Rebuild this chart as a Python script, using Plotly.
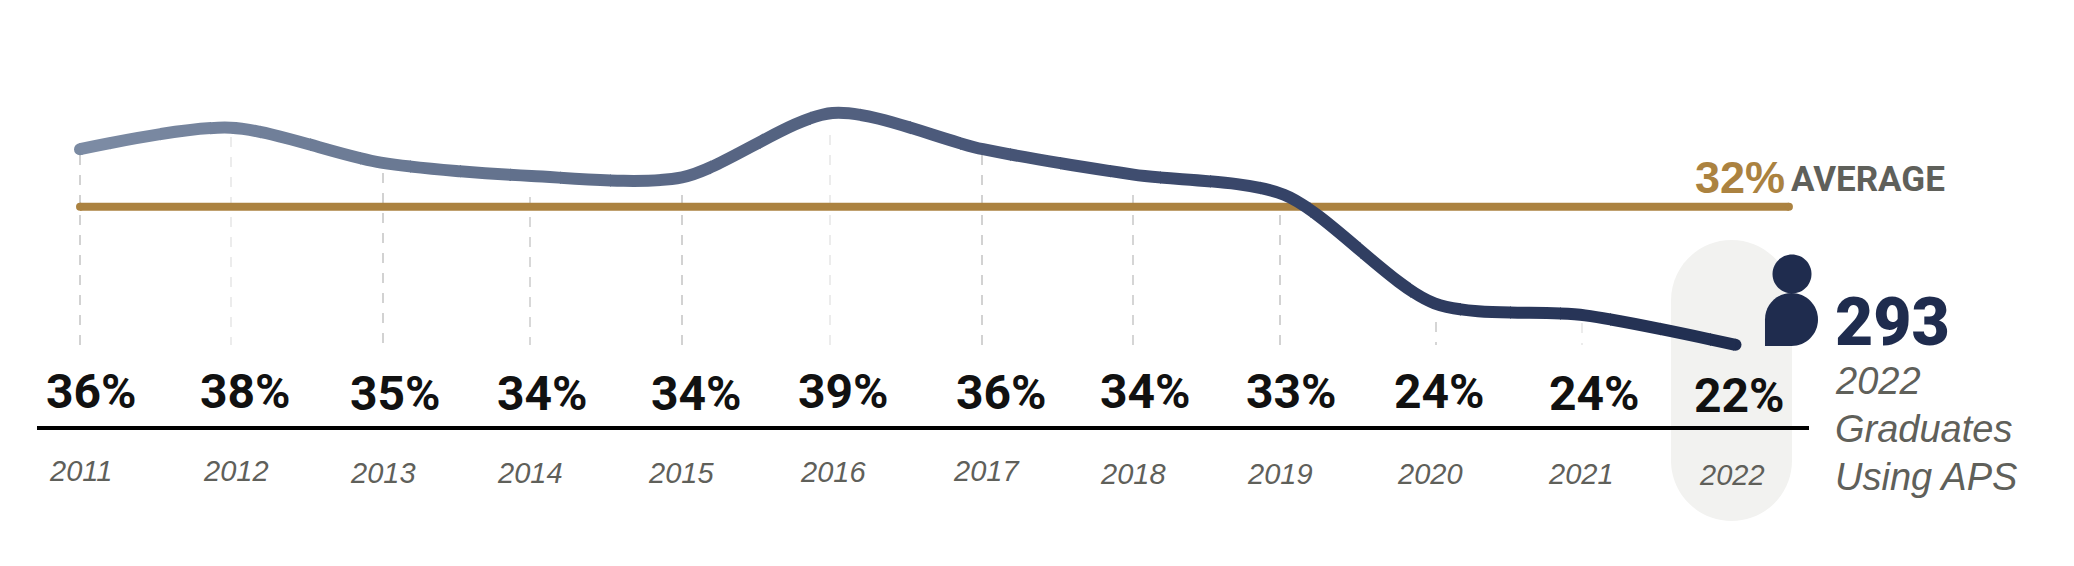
import plotly.graph_objects as go

# ---- data ----
years = [2011, 2012, 2013, 2014, 2015, 2016, 2017, 2018, 2019, 2020, 2021, 2022]
rate_curve = [36.3, 37.9, 35.3, 34.3, 34.2, 39.0, 36.3, 34.4, 32.9, 24.8, 23.9, 21.7]
rate_labels = ["36%", "38%", "35%", "34%", "34%", "39%", "36%", "34%", "33%", "24%", "24%", "22%"]
year_labels = [str(y) for y in years]
average_value = 32
average_x = [2011, 2022.355]
graduates = "293"

# ---- layout tuning (pixels on the 2074x566 canvas) ----
W, H = 2074, 566
X0, XSTEP = 80.0, 150.5        # pixel of 2011, pixels per year
Y39, YSTEP = 113.0, 13.4       # pixel of 39 %, pixels per point
pct_px = [91, 245, 395, 542, 696, 843, 1001, 1145, 1291, 1439, 1594, 1739]
pct_py = [391, 391, 393, 393, 393, 391, 392, 391, 391, 391, 393, 395]
yr_px = [80, 236, 383, 530, 681, 833, 986, 1133, 1280, 1430, 1581, 1732]
yr_py = [471, 471, 473, 473, 473, 472, 471, 474, 474, 474, 474, 475]
guide_px = [80, 231, 383, 530, 682, 830, 982, 1133, 1280, 1436, 1582]
guide_top = [155, 137, 173, 197, 195, 135, 155, 195, 215, 322, 323]
guide_col = ["#c4c4c4", "#e6e6e6", "#c4c4c4", "#cccccc", "#c4c4c4", "#e6e6e6",
             "#c4c4c4", "#c8c8c8", "#c4c4c4", "#c8c8c8", "#e6e6e6"]
grad_stops = [(0.0, (125, 141, 165)), (0.25, (100, 115, 142)), (0.5, (78, 92, 124)),
              (0.75, (50, 64, 100)), (1.0, (31, 44, 78))]
NAVY, GOLD, GREY, INK = "#1f2c4e", "#ab8240", "#5f605a", "#111111"
LINE_W = 12


def px(v):
    return v / W


def py(v):
    return 1 - v / H


def year_at(p):
    return 2011 + (p - X0) / XSTEP


def val_at(p):
    return 39 - (p - Y39) / YSTEP


def mix(t):
    for (a, ca), (b, cb) in zip(grad_stops, grad_stops[1:]):
        if t <= b:
            f = (t - a) / (b - a)
            return "rgb(%d,%d,%d)" % tuple(round(x + (y - x) * f) for x, y in zip(ca, cb))
    return "rgb(31,44,78)"


fig = go.Figure()
layout_axes = {}

# the curve: one spline, repeated through narrow side-by-side subplots so
# that each window clips it to a slice and paints it a step further along the gradient
start, stop = 60, 1760
n = 34
width = (stop - start) / n
cuts = [start + i * width for i in range(n + 1)]

# gold average goes below the curve
fig.add_trace(go.Scatter(x=average_x, y=[average_value] * 2, mode="lines+markers",
                         line=dict(color=GOLD, width=8), marker=dict(color=GOLD, size=8),
                         hoverinfo="skip", showlegend=False))

for i in range(n):
    a, b = cuts[i], min(cuts[i + 1] + 1.0, stop)
    name = "xaxis%d" % (i + 2)
    ref = "x%d" % (i + 2)
    layout_axes[name] = dict(domain=[a / W, b / W], range=[year_at(a), year_at(b)],
                             visible=False, anchor="y", fixedrange=True)
    fig.add_trace(go.Scatter(x=years, y=rate_curve, xaxis=ref, yaxis="y", mode="lines",
                             line=dict(color=mix((i + 0.5) / n), width=LINE_W,
                                       shape="spline", smoothing=0.8),
                             hoverinfo="skip", showlegend=False))

# round ends of the curve
fig.add_trace(go.Scatter(x=[years[0]], y=[rate_curve[0]], mode="markers",
                         marker=dict(color=mix(0.03), size=LINE_W), hoverinfo="skip", showlegend=False))
fig.add_trace(go.Scatter(x=[years[-1]], y=[rate_curve[-1]], mode="markers",
                         marker=dict(color=mix(1.0), size=LINE_W), hoverinfo="skip", showlegend=False))

shapes = []


def path_shape(d, color, layer="below", line=None):
    return dict(type="path", path=d, xref="paper", yref="paper", fillcolor=color,
                line=line or dict(width=0), layer=layer)


def P(x, y):
    return "%.5f,%.5f" % (px(x), py(y))


# highlight pill
L, R, T, B, r = 1671, 1792, 240, 521, 60.5
k = r * 0.5523
pill = ("M" + P(L, T + r) + " C" + P(L, T + r - k) + " " + P(L + r - k, T) + " " + P(L + r, T) +
        " C" + P(R - r + k, T) + " " + P(R, T + r - k) + " " + P(R, T + r) +
        " L" + P(R, B - r) +
        " C" + P(R, B - r + k) + " " + P(R - r + k, B) + " " + P(R - r, B) +
        " C" + P(L + r - k, B) + " " + P(L, B - r + k) + " " + P(L, B - r) + " Z")
shapes.append(path_shape(pill, "#f2f2f0"))

# dashed guides
for gx, top, col in zip(guide_px, guide_top, guide_col):
    shapes.append(dict(type="line", xref="paper", yref="paper", x0=px(gx), x1=px(gx),
                       y0=py(top), y1=py(345), layer="below",
                       line=dict(color=col, width=1.5, dash="10px,10px")))

# baseline
shapes.append(dict(type="line", xref="paper", yref="paper", x0=px(37), x1=px(1809),
                   y0=py(428), y1=py(428), layer="above", line=dict(color="#000000", width=4)))

# person icon
cx, cy, hr = 1792, 274, 19.5
hk = hr * 0.5523
head = ("M" + P(cx - hr, cy) + " C" + P(cx - hr, cy - hk) + " " + P(cx - hk, cy - hr) + " " + P(cx, cy - hr) +
        " C" + P(cx + hk, cy - hr) + " " + P(cx + hr, cy - hk) + " " + P(cx + hr, cy) +
        " C" + P(cx + hr, cy + hk) + " " + P(cx + hk, cy + hr) + " " + P(cx, cy + hr) +
        " C" + P(cx - hk, cy + hr) + " " + P(cx - hr, cy + hk) + " " + P(cx - hr, cy) + " Z")
shapes.append(path_shape(head, NAVY, "above"))
bl, br, bt, bb = 1765, 1818, 293, 346
bcx, brad = (bl + br) / 2, (br - bl) / 2
bk = brad * 0.5523
body = ("M" + P(bl, bb) + " L" + P(bl, bt + brad) +
        " C" + P(bl, bt + brad - bk) + " " + P(bcx - bk, bt) + " " + P(bcx, bt) +
        " C" + P(bcx + bk, bt) + " " + P(br, bt + brad - bk) + " " + P(br, bt + brad) +
        " L" + P(br, bb - brad) +
        " C" + P(br, bb - brad + bk) + " " + P(bcx + bk, bb) + " " + P(bcx, bb) + " Z")
shapes.append(path_shape(body, NAVY, "above"))

annotations = []


def text(s, x, y, size, color, family="Liberation Sans", weight=400, italic=False,
         xanchor="center", yanchor="middle"):
    annotations.append(dict(text=s, x=px(x), y=py(y), xref="paper", yref="paper",
                            xanchor=xanchor, yanchor=yanchor, showarrow=False,
                            align="left" if xanchor == "left" else "center",
                            font=dict(family=family, size=size, color=color, weight=weight,
                                      style="italic" if italic else "normal")))


for s, x, y in zip(rate_labels, pct_px, pct_py):
    text(s, x, y, 48, INK, "Roboto", weight=700)
for s, x, y in zip(year_labels, yr_px, yr_py):
    text(s, x, y, 29, GREY, italic=True)

text("%d%%" % average_value, 1693, 177, 45, GOLD, weight=700, xanchor="left")
text("AVERAGE", 1789, 179, 35, GREY, "Roboto", weight=700, xanchor="left")
text(graduates, 1833, 323, 66, NAVY, "Roboto", weight=900, xanchor="left")
text("2022", 1833, 381, 38, GREY, italic=True, xanchor="left")
text("Graduates", 1833, 429, 38, GREY, italic=True, xanchor="left")
text("Using APS", 1833, 477, 38, GREY, italic=True, xanchor="left")

fig.update_layout(
    width=W, height=H, margin=dict(l=0, r=0, t=0, b=0),
    paper_bgcolor="white", plot_bgcolor="rgba(0,0,0,0)", showlegend=False,
    xaxis=dict(domain=[0, 1], range=[year_at(0), year_at(W)], visible=False, fixedrange=True),
    yaxis=dict(domain=[0, 1], range=[val_at(H), val_at(0)], visible=False, fixedrange=True),
    shapes=shapes, annotations=annotations, **layout_axes,
)

fig.write_html("out.html", config={"displayModeBar": False},
               post_script="document.body.style.margin='0';document.body.style.overflow='hidden';")
